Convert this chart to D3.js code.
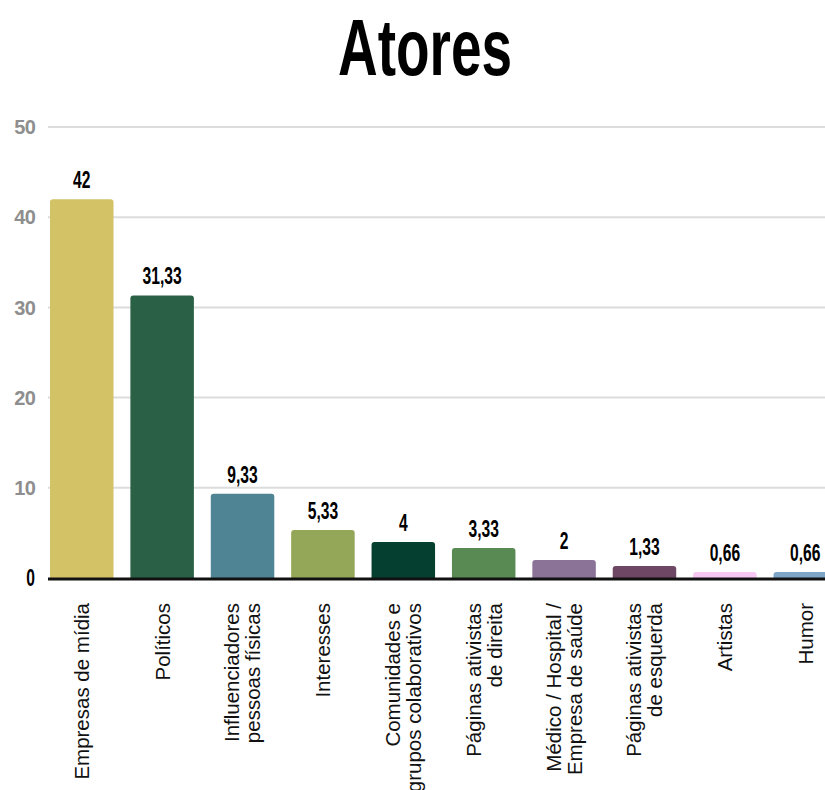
<!DOCTYPE html>
<html>
<head>
<meta charset="utf-8">
<script src="https://cdn.jsdelivr.net/npm/d3@7"></script>
<style>
  html, body { margin: 0; padding: 0; background: #ffffff; }
  svg { display: block; }
</style>
</head>
<body>
<svg id="chart" width="825" height="790"></svg>
<script>
// Actor categories (lines of each axis label) and their shares
const categories = [
  ["Empresas de mídia"],
  ["Políticos"],
  ["Influenciadores", "pessoas físicas"],
  ["Interesses"],
  ["Comunidades e", "grupos colaborativos"],
  ["Páginas ativistas", "de direita"],
  ["Médico / Hospital /", "Empresa de saúde"],
  ["Páginas ativistas", "de esquerda"],
  ["Artistas"],
  ["Humor"]
];
const values = [42, 31.33, 9.33, 5.33, 4, 3.33, 2, 1.33, 0.66, 0.66];
const colors = ["#d3c266", "#2a6146", "#4e8494", "#94a657", "#043f2f",
                "#5a8a53", "#8b7398", "#6d4763", "#f6c8f3", "#7fa5c6"];
const yTicks = [0, 10, 20, 30, 40, 50];
const title = "Atores";

const svg = d3.select("#chart");
const W = 825;

const x = d3.scaleBand()
  .domain(d3.range(values.length))
  .range([50, 837])
  .paddingInner(0.21)
  .paddingOuter(0);

const y = d3.scaleLinear().domain([0, 50]).range([578, 127]);

const sans = "'Liberation Sans', Arial, Helvetica, sans-serif";
const fmt = v => String(v).replace(".", ",");
// horizontal squeeze that gives the bold face a condensed look
const squeeze = 0.68;

// Title
svg.append("text")
  .attr("x", 425)
  .attr("y", 75)
  .attr("text-anchor", "middle")
  .attr("font-family", sans)
  .attr("font-weight", "bold")
  .attr("font-size", 80)
  .attr("textLength", 174)
  .attr("lengthAdjust", "spacingAndGlyphs")
  .attr("fill", "#000")
  .text(title);

// Gridlines (above zero)
svg.append("g")
  .selectAll("line")
  .data(yTicks.filter(t => t > 0))
  .join("line")
  .attr("x1", 48).attr("x2", W)
  .attr("y1", d => y(d)).attr("y2", d => y(d))
  .attr("stroke", "#dcdcdc")
  .attr("stroke-width", 2);

// Y tick labels
svg.append("g")
  .selectAll("text")
  .data(yTicks)
  .join("text")
  .attr("transform", d => `translate(35,${y(d)})` + (d === 0 ? ` scale(${squeeze},1)` : ""))
  .attr("dy", "0.36em")
  .attr("text-anchor", "end")
  .attr("font-family", sans)
  .attr("font-weight", "bold")
  .attr("font-size", d => d === 0 ? 23 : 20)
  .attr("letter-spacing", d => d === 0 ? 0 : -0.8)
  .attr("fill", d => d === 0 ? "#000" : "#8e8e8e")
  .text(d => d);

// Bars
svg.append("g")
  .selectAll("path")
  .data(values)
  .join("path")
  .attr("fill", (d, i) => colors[i])
  .attr("d", (d, i) => {
    const x0 = x(i), w = x.bandwidth(), top = y(d), base = y(0);
    const r = Math.min(3, (base - top) / 2);
    return `M${x0},${base}V${top + r}Q${x0},${top} ${x0 + r},${top}` +
           `H${x0 + w - r}Q${x0 + w},${top} ${x0 + w},${top + r}V${base}Z`;
  });

// Value labels
svg.append("g")
  .selectAll("text")
  .data(values)
  .join("text")
  .attr("transform", (d, i) =>
    `translate(${x(i) + x.bandwidth() / 2},${y(d) - 11}) scale(${squeeze},1)`)
  .attr("text-anchor", "middle")
  .attr("font-family", sans)
  .attr("font-weight", "bold")
  .attr("font-size", 23)
  .attr("fill", "#000")
  .text(d => fmt(d));

// Baseline
svg.append("line")
  .attr("x1", 48).attr("x2", W)
  .attr("y1", y(0) + 1).attr("y2", y(0) + 1)
  .attr("stroke", "#111")
  .attr("stroke-width", 3);

// Category labels, rotated, reading upward
const lineH = 21;
const lab = svg.append("g")
  .selectAll("text")
  .data(categories)
  .join("text")
  .attr("transform", (d, i) => `translate(${x(i) + x.bandwidth() / 2},603) rotate(-90)`)
  .attr("text-anchor", "end")
  .attr("font-family", sans)
  .attr("font-size", 20.5)
  .attr("fill", "#111");

lab.selectAll("tspan")
  .data(d => d.map((t, j) => ({ t, j, n: d.length })))
  .join("tspan")
  .attr("x", 0)
  .attr("y", d => (d.j - (d.n - 1) / 2) * lineH)
  .attr("dy", "0.36em")
  .text(d => d.t);
</script>
</body>
</html>
